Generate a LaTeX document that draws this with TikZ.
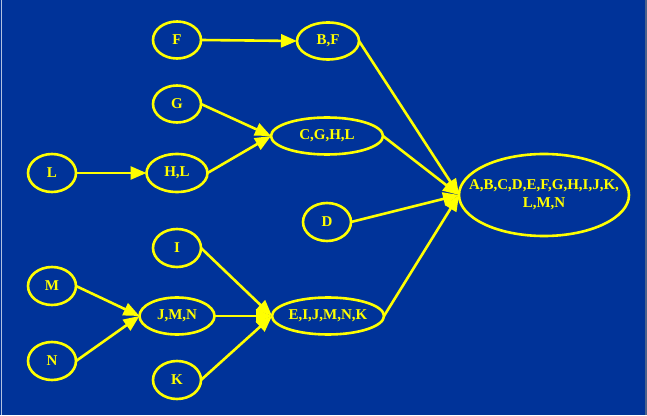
\documentclass[tikz,border=0pt]{standalone}
\usepackage{fontspec}
\setmainfont{Liberation Serif}
\usetikzlibrary{arrows.meta,shapes.geometric}
\definecolor{bg}{RGB}{0,51,153}
\definecolor{yl}{RGB}{255,255,0}
\tikzset{
  st/.style={ellipse,draw=yl,line width=2.6pt,text=yl,font=\bfseries\fontsize{15}{18}\selectfont,inner sep=0pt,outer sep=0pt},
  arr/.style={draw=yl,line width=2.6pt,-{Triangle[length=16pt,width=13pt]}}
}
\begin{document}
\begin{tikzpicture}[x=1pt,y=1pt]
\fill[bg] (0,0) rectangle (647,415);
\useasboundingbox (0,0) rectangle (647,415);
\fill[white!70!bg] (0.8,0) rectangle (1.8,415);
\fill[gray!60!bg] (645,0) rectangle (647,415);
\node[st,minimum width=48pt,minimum height=37pt] (F) at (177,{415-40}) {F};
\node[st,minimum width=62pt,minimum height=37pt] (BF) at (328,{415-41}) {B,F};
\node[st,minimum width=48pt,minimum height=37pt] (G) at (177,{415-104}) {G};
\node[st,minimum width=112pt,minimum height=37pt] (CGHL) at (327,{415-136}) {C,G,H,L};
\node[st,minimum width=48pt,minimum height=38pt] (L) at (52,{415-173}) {L};
\node[st,minimum width=61pt,minimum height=38pt] (HL) at (177,{415-173}) {H,L};
\node[st,minimum width=48pt,minimum height=38pt] (D) at (327,{415-222}) {D};
\node[st,minimum width=170pt,minimum height=82pt,inner xsep=-16pt,align=center] (ALL) at (544,{415-195}) {A,B,C,D,E,F,G,H,I,J,K,\\L,M,N};
\node[st,minimum width=48pt,minimum height=38pt] (I) at (177,{415-248}) {I};
\node[st,minimum width=48pt,minimum height=38pt] (M) at (52,{415-286}) {M};
\node[st,minimum width=75pt,minimum height=37pt] (JMN) at (177,{415-316}) {J,M,N};
\node[st,minimum width=112pt,minimum height=37pt,inner xsep=-6pt] (EIJ) at (328,{415-316}) {E,I,J,M,N,K};
\node[st,minimum width=48pt,minimum height=38pt] (N) at (52,{415-361}) {N};
\node[st,minimum width=48pt,minimum height=38pt] (K) at (177,{415-380}) {K};
\draw[arr] (F.east) -- (BF.west);
\draw[arr] (G.east) -- (CGHL.west);
\draw[arr] (HL.east) -- (CGHL.west);
\draw[arr] (L.east) -- (HL.west);
\draw[arr] (BF.east) -- (ALL.west);
\draw[arr] (CGHL.east) -- (ALL.west);
\draw[arr] (D.east) -- (ALL.west);
\draw[arr] (EIJ.east) -- (ALL.west);
\draw[arr] (M.east) -- (JMN.west);
\draw[arr] (N.east) -- (JMN.west);
\draw[arr] (I.east) -- (EIJ.west);
\draw[arr] (JMN.east) -- (EIJ.west);
\draw[arr] (K.east) -- (EIJ.west);
\end{tikzpicture}
\end{document}
